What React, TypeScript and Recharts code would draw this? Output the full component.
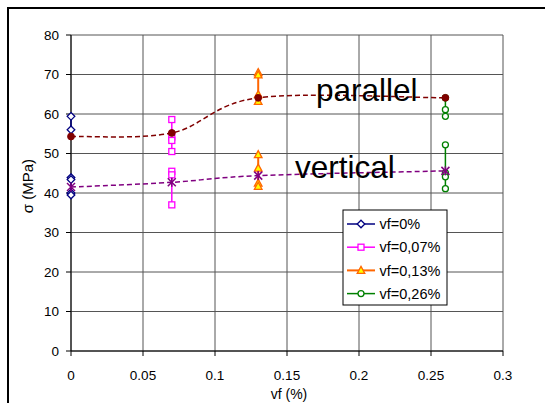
import React from "react";
import { ScatterChart, Scatter, XAxis, YAxis, CartesianGrid } from "recharts";

const FONT = '"Liberation Sans", Arial, sans-serif';

// fibre volume fractions (x) and tick labels
const VF_LEVELS = [0, 0.07, 0.13, 0.26];
const X_TICKS = [0, 0.05, 0.1, 0.15, 0.2, 0.25, 0.3];
const Y_TICKS = [0, 10, 20, 30, 40, 50, 60, 70, 80];
const SERIES_NAMES = ["vf=0%", "vf=0,07%", "vf=0,13%", "vf=0,26%"];

// individual specimens, stress in MPa
const PARALLEL_SAMPLES = [
  [59.4, 56.0],
  [58.6, 54.2, 53.3, 50.5],
  [70.5, 69.9, 64.9, 63.2],
  [64.1, 61.1, 59.4],
];
const VERTICAL_SAMPLES = [
  [43.9, 43.4, 40.0, 39.5],
  [45.5, 44.6, 37.0],
  [49.7, 46.3, 42.5, 41.7],
  [52.2, 45.1, 44.1, 41.1],
];

// averages per direction
const PARALLEL_MEAN = [54.3, 55.2, 64.1, 64.1];
const VERTICAL_MEAN = [41.5, 42.7, 44.4, 45.6];

type Kind = "diamond" | "square" | "triangle" | "circle" | "dot" | "star";

const SERIES_STYLE: { kind: Kind; stroke: string; fill: string; width: number }[] = [
  { kind: "diamond", stroke: "#000080", fill: "#ffffff", width: 1.5 },
  { kind: "square", stroke: "#ff00ff", fill: "#ffffff", width: 1.5 },
  { kind: "triangle", stroke: "#ff6600", fill: "#ffff00", width: 2 },
  { kind: "circle", stroke: "#008000", fill: "#ffffff", width: 1.5 },
];

// smoothed line like a spreadsheet "smoothed line": Catmull-Rom through every point
function smoothCurve(context: any) {
  let pts: number[][] = [];
  return {
    areaStart() {},
    areaEnd() {},
    lineStart() {
      pts = [];
    },
    lineEnd() {
      const n = pts.length;
      if (!n) return;
      context.moveTo(pts[0][0], pts[0][1]);
      for (let i = 0; i < n - 1; i++) {
        const p0 = pts[Math.max(i - 1, 0)];
        const p1 = pts[i];
        const p2 = pts[i + 1];
        const p3 = pts[Math.min(i + 2, n - 1)];
        context.bezierCurveTo(
          p1[0] + (p2[0] - p0[0]) / 6,
          p1[1] + (p2[1] - p0[1]) / 6,
          p2[0] - (p3[0] - p1[0]) / 6,
          p2[1] - (p3[1] - p1[1]) / 6,
          p2[0],
          p2[1]
        );
      }
    },
    point(x: number, y: number) {
      pts.push([+x, +y]);
    },
  };
}

function Marker({ kind, cx, cy, stroke, fill }: { kind: Kind; cx: number; cy: number; stroke: string; fill: string }) {
  if (cx == null || cy == null) return null;
  switch (kind) {
    case "diamond":
      return (
        <polygon
          points={`${cx},${cy - 3.8} ${cx + 3.8},${cy} ${cx},${cy + 3.8} ${cx - 3.8},${cy}`}
          fill={fill}
          stroke={stroke}
          strokeWidth={1.3}
        />
      );
    case "square":
      return <rect x={cx - 3} y={cy - 3} width={6} height={6} fill={fill} stroke={stroke} strokeWidth={1.3} />;
    case "triangle":
      return (
        <polygon
          points={`${cx},${cy - 4} ${cx + 3.8},${cy + 3} ${cx - 3.8},${cy + 3}`}
          fill={fill}
          stroke={stroke}
          strokeWidth={1.3}
        />
      );
    case "circle":
      return <circle cx={cx} cy={cy} r={3} fill={fill} stroke={stroke} strokeWidth={1.3} />;
    case "dot":
      return <circle cx={cx} cy={cy} r={3.4} fill={fill} stroke={stroke} strokeWidth={1} />;
    case "star":
      return (
        <g stroke={stroke} strokeWidth={1.5}>
          <line x1={cx - 4} y1={cy - 4} x2={cx + 4} y2={cy + 4} />
          <line x1={cx - 4} y1={cy + 4} x2={cx + 4} y2={cy - 4} />
          <line x1={cx} y1={cy - 4.5} x2={cx} y2={cy + 4.5} />
        </g>
      );
  }
  return null;
}

const points = (x: number, ys: number[]) => ys.map((y) => ({ x, y }));
const meanPoints = (ys: number[]) => ys.map((y, i) => ({ x: VF_LEVELS[i], y }));

const tickStyle = { fill: "#000", fontSize: 13.5, fontFamily: FONT };

export default function App() {
  const sampleSeries = VF_LEVELS.flatMap((vf, i) => {
    const s = SERIES_STYLE[i];
    return [PARALLEL_SAMPLES[i], VERTICAL_SAMPLES[i]].map((ys, j) => (
      <Scatter
        key={`s-${i}-${j}`}
        data={points(vf, ys)}
        isAnimationActive={false}
        line={{ stroke: s.stroke, strokeWidth: s.width }}
        shape={(p: any) => <Marker kind={s.kind} cx={p.cx} cy={p.cy} stroke={s.stroke} fill={s.fill} />}
      />
    ));
  });

  return (
    <div
      style={{
        position: "fixed",
        left: 0,
        top: 0,
        width: 545,
        height: 403,
        overflow: "hidden",
        background: "#fff",
        fontFamily: FONT,
      }}
    >
      <div
        style={{ position: "absolute", left: 7, top: 7, width: 600, height: 500, border: "2px solid #000" }}
      />
      <div style={{ position: "absolute", left: 0, top: 0 }}>
        <ScatterChart width={545} height={403} margin={{ top: 35, right: 42, bottom: 0, left: 11 }}>
          <CartesianGrid stroke="#555" strokeWidth={1} />
          <XAxis
            type="number"
            dataKey="x"
            domain={[0, 0.3]}
            ticks={X_TICKS}
            height={52}
            tickSize={5}
            tickMargin={14}
            stroke="#000"
            tick={tickStyle}
            tickLine={{ stroke: "#000" }}
            axisLine={{ stroke: "#000" }}
          />
          <YAxis
            type="number"
            dataKey="y"
            domain={[0, 80]}
            ticks={Y_TICKS}
            width={60}
            tickSize={5}
            tickMargin={7}
            stroke="#000"
            tick={tickStyle}
            tickLine={{ stroke: "#000" }}
            axisLine={{ stroke: "#000" }}
          />
          {sampleSeries}
          <Scatter
            data={meanPoints(PARALLEL_MEAN)}
            isAnimationActive={false}
            lineJointType={smoothCurve as any}
            line={{ stroke: "#800000", strokeWidth: 1.5, strokeDasharray: "5 3" }}
            shape={(p: any) => <Marker kind="dot" cx={p.cx} cy={p.cy} stroke="#800000" fill="#800000" />}
          />
          <Scatter
            data={meanPoints(VERTICAL_MEAN)}
            isAnimationActive={false}
            lineJointType={smoothCurve as any}
            line={{ stroke: "#800080", strokeWidth: 1.5, strokeDasharray: "5 3" }}
            shape={(p: any) => <Marker kind="star" cx={p.cx} cy={p.cy} stroke="#800080" fill="#800080" />}
          />
        </ScatterChart>
      </div>
      <svg
        width={545}
        height={403}
        style={{ position: "absolute", left: 0, top: 0, pointerEvents: "none" }}
        fontFamily={FONT}
      >
        <text x={316} y={101} fontSize={31.5} fill="#000">
          parallel
        </text>
        <text x={295} y={177.5} fontSize={31.5} fill="#000">
          vertical
        </text>
        <text x={289} y={399} fontSize={14} textAnchor="middle" fill="#000">
          vf (%)
        </text>
        <text x={33} y={186} fontSize={15} textAnchor="middle" fill="#000" transform="rotate(-90, 33, 186)">
          σ (MPa)
        </text>
        <g>
          <rect x={343} y={210} width={104} height={95} fill="#fff" stroke="#000" strokeWidth={1} />
          {SERIES_NAMES.map((name, i) => {
            const s = SERIES_STYLE[i];
            const cy = 224 + i * 23.2;
            return (
              <g key={name}>
                <line x1={347} y1={cy} x2={375} y2={cy} stroke={s.stroke} strokeWidth={s.width} />
                <Marker kind={s.kind} cx={361} cy={cy} stroke={s.stroke} fill={s.fill} />
                <text x={379.5} y={cy + 5.2} fontSize={14.5} fill="#000">
                  {name}
                </text>
              </g>
            );
          })}
        </g>
      </svg>
    </div>
  );
}
